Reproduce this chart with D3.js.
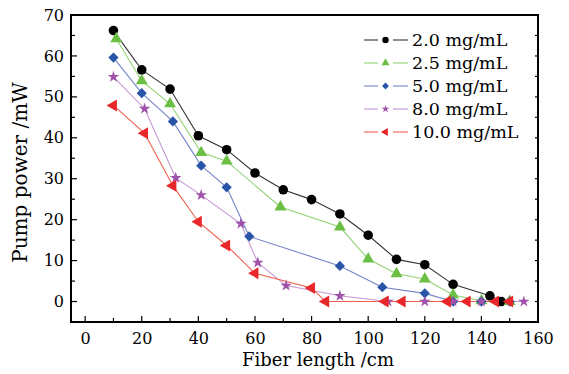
<!DOCTYPE html>
<html>
<head>
<meta charset="utf-8">
<script src="https://cdn.jsdelivr.net/npm/d3@7"></script>
<style>
  body { margin: 0; background: #fff; }
  text { font-family: "DejaVu Serif", serif; fill: #000; }
</style>
</head>
<body>
<svg id="chart" width="569" height="374"></svg>
<script>
// data
const seriesNames = ['2.0 mg/mL', '2.5 mg/mL', '5.0 mg/mL', '8.0 mg/mL', '10.0 mg/mL'];

const len20 = [10, 20, 30, 40, 50, 60, 70, 80, 90, 100, 110, 120, 130, 143, 147];
const pow20 = [66.2, 56.6, 51.9, 40.5, 37.1, 31.4, 27.3, 24.9, 21.4, 16.2, 10.3, 9.0, 4.2, 1.4, 0];

const len25 = [11, 20, 30, 41, 50, 69, 90, 100, 110, 120, 130, 140, 150];
const pow25 = [64.2, 53.9, 48.3, 36.4, 34.3, 23.1, 18.2, 10.4, 6.8, 5.5, 1.6, 0.2, 0];

const len50 = [10, 20, 31, 41, 50, 58, 90, 105, 120, 130, 140, 150];
const pow50 = [59.6, 50.9, 44.0, 33.2, 27.9, 15.9, 8.7, 3.5, 2.0, 0, 0, 0];

const len80 = [10, 21, 32, 41, 55, 61, 71, 90, 107, 120, 130, 140, 155];
const pow80 = [54.9, 47.1, 30.2, 26.0, 19.0, 9.5, 3.9, 1.4, 0, 0, 0, 0, 0];

const len100 = [10, 21, 31, 40, 50, 60, 80, 85, 106, 112, 128, 135, 145, 150];
const pow100 = [47.9, 41.1, 28.3, 19.5, 13.7, 6.9, 3.3, 0, 0, 0, 0, 0, 0, 0];

const xTicks = [0, 20, 40, 60, 80, 100, 120, 140, 160];
const yTicks = [0, 10, 20, 30, 40, 50, 60, 70];

const series = [
  { name: seriesNames[0], x: len20, y: pow20, mark: '#000000', line: '#333333', sym: d3.symbolCircle, size: 72, rot: 0 },
  { name: seriesNames[1], x: len25, y: pow25, mark: '#6cbf45', line: '#93d175', sym: d3.symbolTriangle, size: 62, rot: 0 },
  { name: seriesNames[2], x: len50, y: pow50, mark: '#2855a8', line: '#7484c8', sym: d3.symbolSquare, size: 52, rot: 45 },
  { name: seriesNames[3], x: len80, y: pow80, mark: '#a052aa', line: '#c596d2', sym: d3.symbolStar, size: 42, rot: 0 },
  { name: seriesNames[4], x: len100, y: pow100, mark: '#e8272b', line: '#f0604c', sym: d3.symbolTriangle, size: 62, rot: -90 }
];

const svg = d3.select('#chart');
const mLeft = 71, mRight = 538, mTop = 15, mBottom = 322;

const x = d3.scaleLinear().domain([-5, 160]).range([mLeft, mRight]);
const y = d3.scaleLinear().domain([-5, 70]).range([mBottom, mTop]);

// axes with inward ticks
const xMinor = d3.range(0, 161, 10);
const yMinor = d3.range(0, 71, 5);

const gx = svg.append('g').attr('transform', 'translate(0,' + mBottom + ')');
gx.call(d3.axisBottom(x).tickValues(xTicks).tickSize(0).tickPadding(8).tickFormat(d3.format('d')));
gx.select('.domain').remove();
gx.selectAll('text').style('font-size', '16px').attr('dy', '0.85em');

const gy = svg.append('g').attr('transform', 'translate(' + mLeft + ',0)');
gy.call(d3.axisLeft(y).tickValues(yTicks).tickSize(0).tickPadding(7).tickFormat(d3.format('d')));
gy.select('.domain').remove();
gy.selectAll('text').style('font-size', '16px');

const ticks = svg.append('g').attr('stroke', '#000').attr('stroke-width', 1.2);
xMinor.forEach(function (v) {
  const len = v % 20 === 0 ? 6 : 4;
  ticks.append('line').attr('x1', x(v)).attr('x2', x(v)).attr('y1', mBottom).attr('y2', mBottom - len);
});
yMinor.forEach(function (v) {
  const len = v % 10 === 0 ? 6 : 4;
  ticks.append('line').attr('x1', mLeft).attr('x2', mLeft + len).attr('y1', y(v)).attr('y2', y(v));
  ticks.append('line').attr('x1', mRight).attr('x2', mRight - 3).attr('y1', y(v)).attr('y2', y(v));
});

svg.append('rect')
  .attr('x', mLeft).attr('y', mTop)
  .attr('width', mRight - mLeft).attr('height', mBottom - mTop)
  .attr('fill', 'none').attr('stroke', '#000').attr('stroke-width', 2);

// series
const line = d3.line();
series.forEach(function (s) {
  const pts = s.x.map(function (v, i) { return [x(v), y(s.y[i])]; });
  svg.append('path')
    .attr('d', line(pts))
    .attr('fill', 'none')
    .attr('stroke', s.line)
    .attr('stroke-width', 1.1);
});
series.forEach(function (s) {
  const sym = d3.symbol().type(s.sym).size(s.size);
  svg.append('g').selectAll('path')
    .data(s.x.map(function (v, i) { return [v, s.y[i]]; }))
    .enter()
    .append('path')
    .attr('d', sym)
    .attr('transform', function (d) {
      return 'translate(' + x(d[0]) + ',' + y(d[1]) + ') rotate(' + s.rot + ')';
    })
    .attr('fill', s.mark);
});

// legend
const lg = svg.append('g');
series.forEach(function (s, i) {
  const ly = 40 + i * 23;
  lg.append('line').attr('x1', 364).attr('x2', 378).attr('y1', ly).attr('y2', ly)
    .attr('stroke', s.line).attr('stroke-width', 1.1);
  lg.append('line').attr('x1', 393).attr('x2', 408).attr('y1', ly).attr('y2', ly)
    .attr('stroke', s.line).attr('stroke-width', 1.1);
  lg.append('path')
    .attr('d', d3.symbol().type(s.sym).size(s.size * 0.45))
    .attr('transform', 'translate(385.5,' + ly + ') rotate(' + s.rot + ')')
    .attr('fill', s.mark);
  lg.append('text').attr('x', 412).attr('y', ly).attr('dy', '0.35em')
    .style('font-size', '17.5px').text(s.name);
});

// axis titles
svg.append('text')
  .attr('x', 318).attr('y', 366)
  .attr('text-anchor', 'middle')
  .style('font-size', '18px')
  .text('Fiber length /cm');

svg.append('text')
  .attr('transform', 'translate(27,172.5) rotate(-90)')
  .attr('text-anchor', 'middle')
  .style('font-size', '20px')
  .text('Pump power /mW');
</script>
</body>
</html>
